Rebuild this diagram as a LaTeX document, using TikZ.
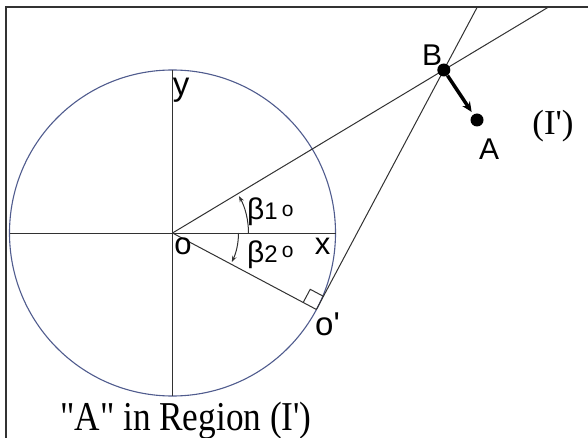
\documentclass[tikz,border=0pt]{standalone}
\usepackage{fontspec}
\setmainfont{Liberation Serif}
\setsansfont{Liberation Sans}
\usetikzlibrary{arrows.meta}
\definecolor{circ}{RGB}{80,92,142}
\definecolor{ln}{RGB}{50,50,50}
\begin{document}
\begin{tikzpicture}[x=1pt,y=-1pt,
  thin line/.style={draw=ln,line width=1pt},
  frame line/.style={draw=ln,line width=1.1pt},
  dotnode/.style={circle,fill=black,inner sep=0pt,minimum size=13pt},
  lab/.style={inner sep=0pt,font=\sffamily\fontsize{#1}{#1}\selectfont},
  anglearrow/.style={draw=ln,line width=1pt,-{Stealth[length=6pt,width=4.5pt]}}
]
\useasboundingbox (0,0) rectangle (588,438);
\fill[white] (0,0) rectangle (588,438);
% frame
\coordinate (FL) at (6,438);
\coordinate (FC) at (6,7);
\coordinate (FR) at (588,7);
\draw[frame line] (FL) -- (FC) -- (FR);
% geometry
\coordinate (O) at (172.5,233);
\coordinate (Op) at (316.4,309.5);
\coordinate (T1) at (548.6,7);
\coordinate (T2) at (477.3,7);
\coordinate (XL) at (9.5,233);
\coordinate (XR) at (335.5,233);
\coordinate (YT) at (172.5,70);
\coordinate (YB) at (172.5,396);
\draw[circ,line width=1.1pt] (O) circle[radius=163pt];
\draw[thin line] (XL) -- (XR);
\draw[thin line] (YT) -- (YB);
\draw[thin line] (O) -- (T1);
\draw[thin line] (O) -- (Op);
\draw[thin line] (Op) -- (T2);
% right angle mark
\coordinate (P1) at (303.2,302.5);
\coordinate (P2) at (310.2,289.3);
\coordinate (P3) at (323.4,296.3);
\draw[thin line] (P1) -- (P2) -- (P3);
% angle arcs
\draw[anglearrow] ([xshift=76pt]O) arc[start angle=0,end angle=29,radius=76pt];
\draw[anglearrow] ([xshift=66pt]O) arc[start angle=0,end angle=-26,radius=66pt];
% points B and A
\node[dotnode] (B) at (443.8,70) {};
\node[dotnode] (A) at (477,120) {};
\draw[line width=3.5pt,-{Stealth[length=10pt,width=9pt]},shorten >=3pt] (B) -- (A);
% labels
\node[lab=30] (Blab) at (432,55) {B};
\node[lab=30] (Alab) at (489,149) {A};
\node[inner sep=0pt,font=\fontsize{35}{35}\selectfont] (Ireg) at (553,126) {(I\textquotesingle)};
\node[lab=33] (ylab) at (181,90) {y};
\node[lab=31] (olab) at (183,246.5) {o};
\node[lab=31] (xlab) at (322.5,246.5) {x};
\node[lab=33,anchor=base west] (oplab) at (315,335) {o\textquotesingle};
\node[inner sep=0pt,anchor=base west,font=\sffamily] (b1) at (247,219)
  {{\fontsize{30}{30}\selectfont β}{\fontsize{24}{24}\selectfont 1}\hspace{4pt}\raisebox{3pt}{\fontsize{21}{21}\selectfont o}};
\node[inner sep=0pt,anchor=base west,font=\sffamily] (b2) at (247,262)
  {{\fontsize{30}{30}\selectfont β}{\fontsize{24}{24}\selectfont 2}\hspace{4pt}\raisebox{5pt}{\fontsize{21}{21}\selectfont o}};
\node[inner sep=0pt,anchor=base west,xscale=0.86,font=\fontsize{41}{41}\selectfont] (cap) at (60,430) {\textquotedbl A\textquotedbl{} in Region (I\textquotesingle)};
\end{tikzpicture}
\end{document}
